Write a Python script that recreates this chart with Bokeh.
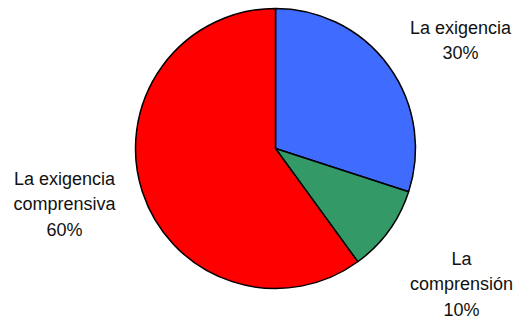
from math import pi
from bokeh.plotting import figure
from bokeh.models import Range1d, ColumnDataSource
from bokeh.core.properties import value
from bokeh.embed import file_html
from bokeh.resources import INLINE

# Data
categories = ["La exigencia", "La comprensión", "La exigencia comprensiva"]
label_lines = [["La exigencia"], ["La", "comprensión"], ["La exigencia", "comprensiva"]]
shares = [30, 10, 60]
colors = ["#3F6BFF", "#339966", "#FF0000"]

W, H = 521, 317
p = figure(width=W, height=H, output_backend="svg", toolbar_location=None,
           x_range=Range1d(0, W), y_range=Range1d(0, H), min_border=0,
           background_fill_color="white", border_fill_color="white")
p.axis.visible = False
p.grid.visible = False
p.outline_line_color = None

def sx(X):
    return X

def sy(Y):
    return H - Y

cx, cy, r = sx(275), sy(148), 140
total = sum(shares)
starts, ends = [], []
a = pi / 2
for s in shares:
    starts.append(a)
    a = a - 2 * pi * s / total
    ends.append(a)

src = ColumnDataSource(dict(start=starts, end=ends, color=colors, cat=categories))
p.wedge(x=cx, y=cy, radius=r, start_angle="start", end_angle="end",
        direction="clock", fill_color="color", line_color="black", line_width=1.5,
        source=src)

# label anchors: (center x, first baseline y) in page pixels
anchors = [(460, 27), (461, 258), (64, 178)]
line_gap = 25.5
xs, ys, texts = [], [], []
for lines, s, (ax, ay) in zip(label_lines, shares, anchors):
    allines = lines + [f"{s}%"]
    for i, t in enumerate(allines):
        xs.append(sx(ax))
        ys.append(sy(ay + i * line_gap))
        texts.append(t)

p.text(x=xs, y=ys, text=texts, text_font=value("Liberation Sans"),
       text_font_size="18px", text_align="center", text_baseline="alphabetic",
       text_color="#111111")

open("out.html", "w").write(file_html(p, INLINE))
